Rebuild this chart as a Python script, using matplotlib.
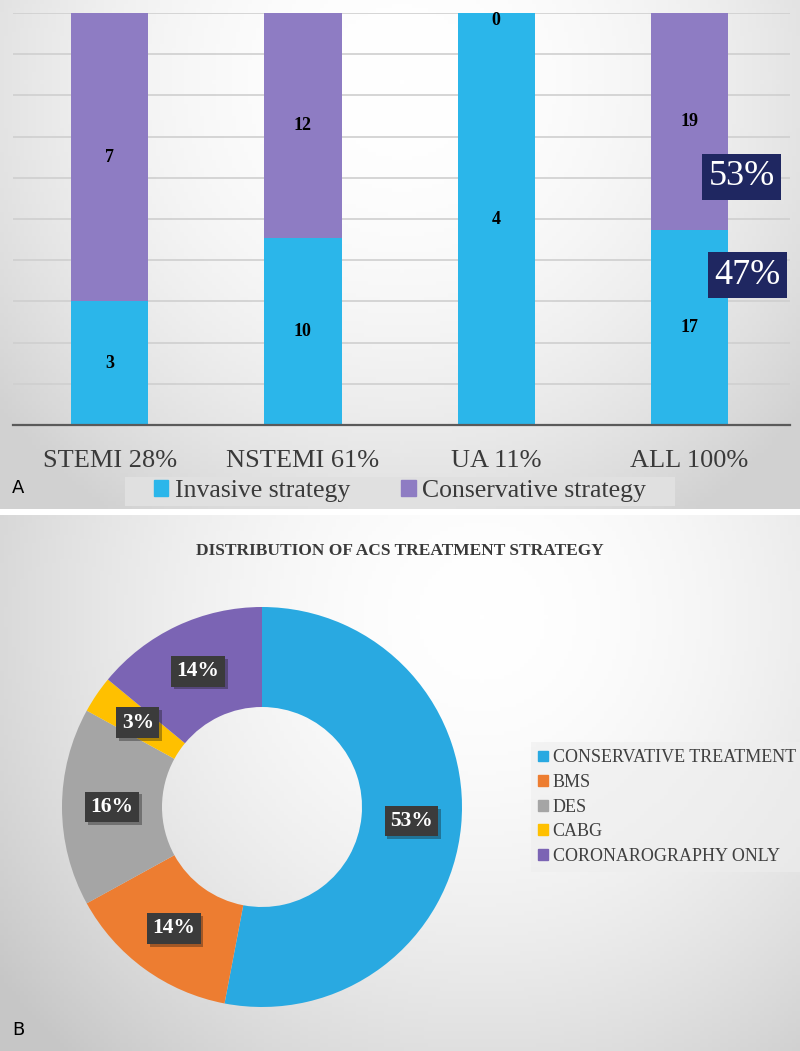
import numpy as np
import matplotlib
matplotlib.use("Agg")
import matplotlib.pyplot as plt
from matplotlib.patches import Patch, Rectangle
import matplotlib.patheffects as pe

# data - panel A
categories = ['STEMI 28%', 'NSTEMI 61%', 'UA 11%', 'ALL 100%']
invasive = [3, 10, 4, 17]
conservative = [7, 12, 0, 19]

# data - panel B
donut_labels = ['CONSERVATIVE TREATMENT', 'BMS', 'DES', 'CABG', 'CORONAROGRAPHY ONLY']
donut_pct = [53, 14, 16, 3, 14]

c_inv = '#2bb6ea'
c_cons = '#8e7cc3'
donut_colors = ['#29a9e1', '#ed7d31', '#a5a5a5', '#ffc000', '#7b64b4']
serif = ['Liberation Serif', 'DejaVu Serif']

W, H = 800, 1051
fig = plt.figure(figsize=(W / 100, H / 100), dpi=100)
fig.patch.set_facecolor('white')


def px(x0, y0, x1, y1):
    # pixel box (top-left origin) -> figure rect
    return [x0 / W, 1 - y1 / H, (x1 - x0) / W, (y1 - y0) / H]


def gradient(rect, cx, cy, rad, lo, hi, w, h, p=1.6):
    bg = fig.add_axes(rect, zorder=0)
    yy, xx = np.mgrid[0:h, 0:w]
    d = np.sqrt((xx - cx) ** 2 + (yy - cy) ** 2) / rad
    d = np.clip(d, 0, 1)
    v = hi - (hi - lo) * d ** p
    img = np.dstack([v, v, v])
    bg.imshow(img, aspect='auto', extent=[0, 1, 0, 1], origin='upper')
    bg.set_axis_off()
    return bg


# panel backgrounds
bgA = gradient(px(0, 0, 800, 509), 100, 20, 130, 0.82, 1.0, 200, 127, 2.0)
bgB = gradient(px(0, 515, 800, 1051), 120, 25, 150, 0.78, 1.0, 200, 134, 1.8)

# legend strip behind panel A legend
r = px(125, 477, 675, 506)
fig.patches.append(Rectangle((r[0], r[1]), r[2], r[3], transform=fig.transFigure,
                             fc='#e0e0e0', ec='none', zorder=1))

# ---- panel A: 100% stacked bars
tot = np.array(invasive) + np.array(conservative)
inv_p = np.array(invasive) / tot * 100
cons_p = np.array(conservative) / tot * 100
x = np.arange(len(categories))

ax = fig.add_axes(px(13, 13, 790, 425), zorder=2)
ax.patch.set_alpha(0)
ax.bar(x, inv_p, width=0.4, color=c_inv, zorder=3)
ax.bar(x, cons_p, width=0.4, bottom=inv_p, color=c_cons, zorder=3)
for i in range(len(x)):
    ax.text(x[i], inv_p[i] / 2, str(invasive[i]), ha='center', va='center',
            fontsize=13, fontweight='bold', family=serif, zorder=4)
    ax.text(x[i], inv_p[i] + cons_p[i] / 2 if cons_p[i] > 0 else 98.3, str(conservative[i]),
            ha='center', va='center', fontsize=13, fontweight='bold', family=serif, zorder=4)

ax.set_xlim(-0.5, 3.52)
ax.set_ylim(0, 100)
ax.set_yticks(np.arange(0, 101, 10))
ax.set_yticklabels([])
ax.tick_params(axis='y', length=0)
ax.tick_params(axis='x', length=0, pad=18, labelsize=19, labelcolor='#3a3a3a')
ax.set_xticks(x)
ax.set_xticklabels(categories, family=serif)
ax.grid(axis='y', color='#cfcfcf', lw=1.2, zorder=1)
for s in ['top', 'left', 'right']:
    ax.spines[s].set_visible(False)
ax.spines['bottom'].set_color('#5a5a5a')
ax.spines['bottom'].set_linewidth(1.6)
ax.spines['bottom'].set_zorder(5)

# share boxes on ALL bar
box = dict(boxstyle='square,pad=0.18', fc='#1f2761', ec='none')
ax.text(3.27, 60.2, f'{cons_p[3]:.0f}%', ha='center', va='center', fontsize=26,
        color='white', family=serif, bbox=box, zorder=6)
ax.text(3.30, 36.4, f'{inv_p[3]:.0f}%', ha='center', va='center', fontsize=26,
        color='white', family=serif, bbox=box, zorder=6)

handles = [Patch(color=c_inv, label='Invasive strategy'),
           Patch(color=c_cons, label='Conservative strategy')]
legA = fig.legend(handles=handles, loc='center', bbox_to_anchor=(0.5, 1 - 491 / H), ncol=2,
                  frameon=False, handlelength=0.55, handleheight=0.55, handletextpad=0.25,
                  columnspacing=2.0, borderpad=0.1, borderaxespad=0,
                  prop={'family': serif, 'size': 18.5})
for t in legA.get_texts():
    t.set_color('#3a3a3a')

fig.text(12 / W, 1 - 488 / H, 'A', fontsize=13, ha='left', va='center', family='DejaVu Sans')

# ---- panel B: donut
fig.text(0.5, 1 - 551 / H, 'DISTRIBUTION OF ACS TREATMENT STRATEGY', ha='center', va='center',
         fontsize=12.5, fontweight='bold', family=serif, color='#3a3a3a')

axd = fig.add_axes(px(62, 607, 462, 1007), zorder=2)
axd.patch.set_alpha(0)
wedges, _ = axd.pie(donut_pct, colors=donut_colors, startangle=90, counterclock=False,
                    radius=1, wedgeprops=dict(width=0.5, edgecolor='none'))
axd.set_xlim(-1, 1)
axd.set_ylim(-1, 1)
axd.set_aspect('auto')
start = 90.0
lab_box = dict(boxstyle='square,pad=0.25', fc='#3b3b3b', ec='none')
for p in donut_pct:
    mid = np.deg2rad(start - p * 3.6 / 2)
    start -= p * 3.6
    t = axd.text(0.75 * np.cos(mid), 0.75 * np.sin(mid), f'{p}%', ha='center', va='center',
                 fontsize=15.5, fontweight='bold', color='white', family=serif, bbox=lab_box)
    t.get_bbox_patch().set_path_effects([pe.SimplePatchShadow(offset=(2, -2), alpha=0.35),
                                         pe.Normal()])

handlesB = [Patch(color=c, label=l) for c, l in zip(donut_colors, donut_labels)]
legB = fig.legend(handles=handlesB, loc='center left', bbox_to_anchor=(522 / W, 1 - 807 / H),
                  frameon=True, fancybox=False, facecolor='#eeeeee', edgecolor='none',
                  framealpha=0.6, handlelength=0.55, handleheight=0.55, handletextpad=0.25,
                  labelspacing=0.42, borderpad=0.4, prop={'family': serif, 'size': 13})
for t in legB.get_texts():
    t.set_color('#404040')

fig.text(12 / W, 1 - 1030 / H, 'B', fontsize=13, ha='left', va='center', family='DejaVu Sans')

fig.savefig('out.png', dpi=100)
